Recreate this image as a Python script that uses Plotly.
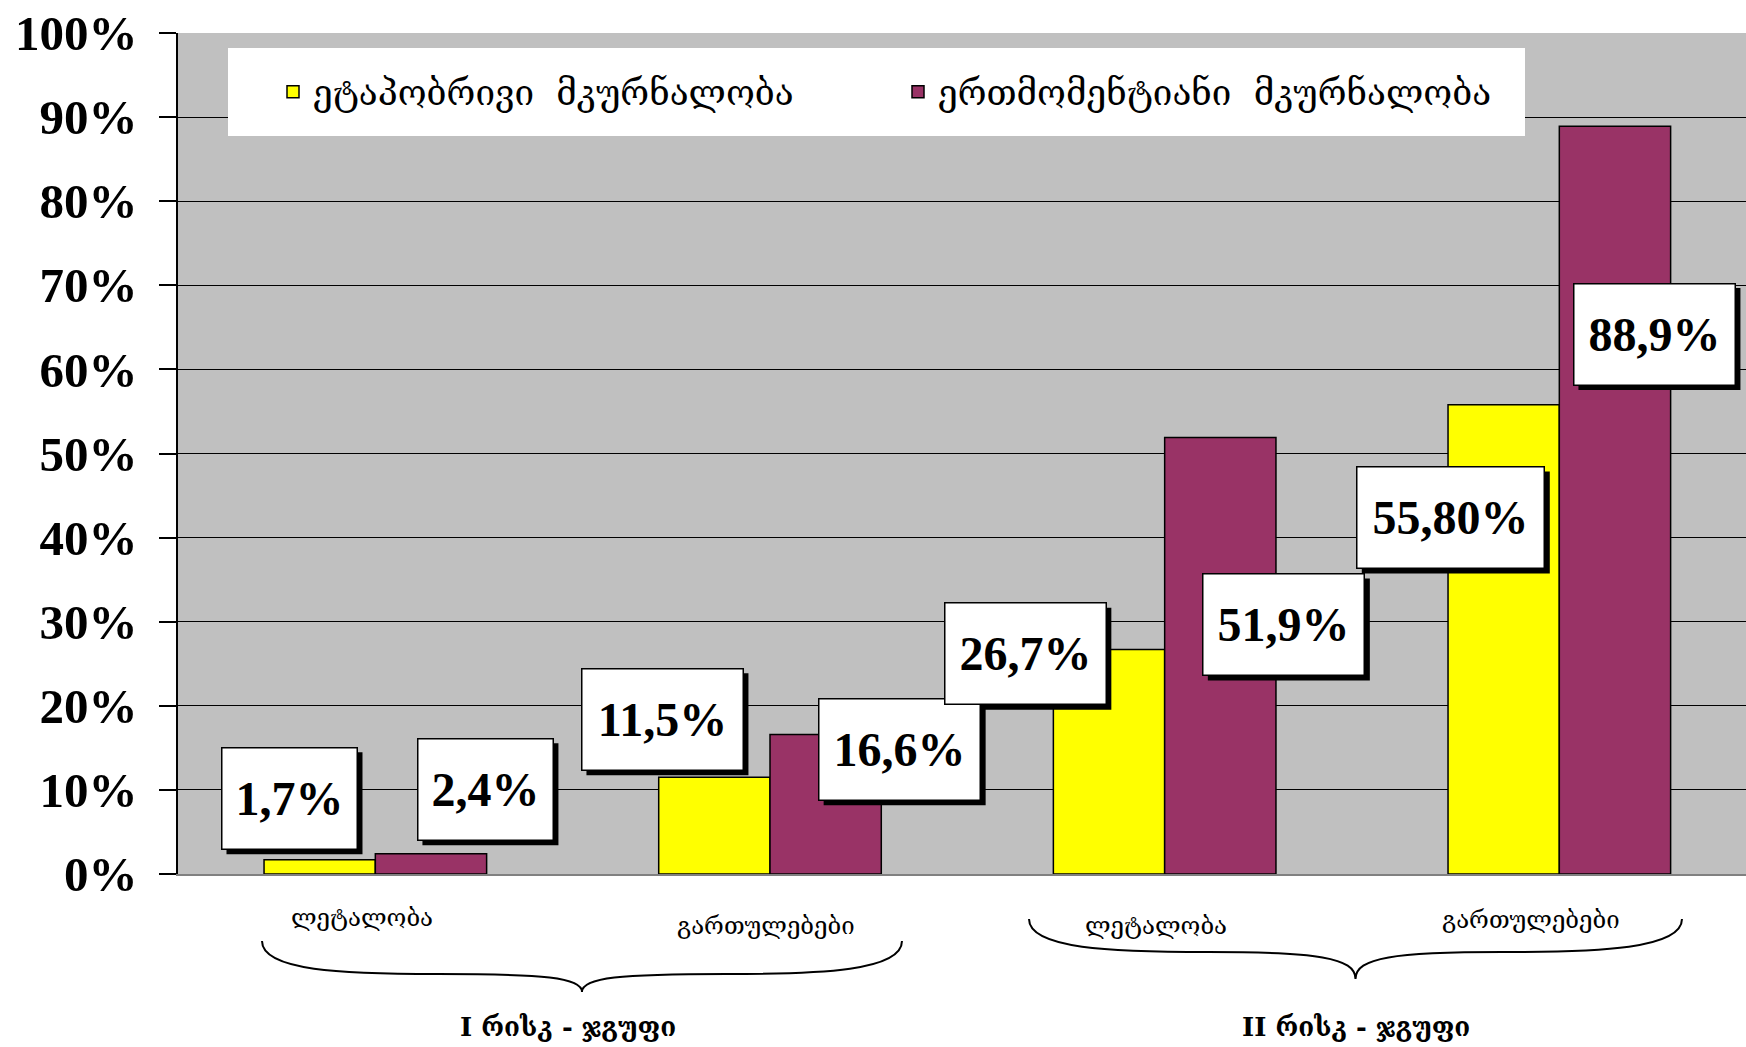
import plotly.graph_objects as go

# ---------------- data ----------------
categories = ["ლეტალობა", "გართულებები", "ლეტალობა", "გართულებები"]
group_titles = ["I რისკ - ჯგუფი", "II რისკ - ჯგუფი"]
series_names = ["ეტაპობრივი\u00a0\u00a0მკურნალობა", "ერთმომენტიანი\u00a0\u00a0მკურნალობა"]
staged = [1.7, 11.5, 26.7, 55.8]
single = [2.4, 16.6, 51.9, 88.9]
staged_text = ["1,7%", "11,5%", "26,7%", "55,80%"]
single_text = ["2,4%", "16,6%", "51,9%", "88,9%"]
y_ticks = [0, 10, 20, 30, 40, 50, 60, 70, 80, 90, 100]
y_tick_text = ["0%", "10%", "20%", "30%", "40%", "50%", "60%", "70%", "80%", "90%", "100%"]

# ---------------- label placement (positions, not data) ----------------
staged_lbl_dx = [-0.2175, -0.2725, -0.353, -0.275]
staged_lbl_y = [9.0, 18.4, 26.2, 42.4]
single_lbl_dx = [0.279, 0.3285, 0.302, 0.241]
single_lbl_y = [10.07, 14.83, 29.67, 64.2]

# ---------------- geometry helpers ----------------
W, H = 1746, 1047
ML, MR, MT, MB = 178, 0, 33, 173
PW = W - ML - MR
PH = H - MT - MB


def pxx(p):
    return (p - ML) / PW


def pxy(p):
    return (H - MB - p) / PH


YELLOW = "#FFFF00"
PURPLE = "#993366"
NUM_FONT = "Liberation Serif, Times New Roman, serif"
GEO_FONT = "DejaVu Serif, DejaVu Sans, serif"

xs = list(range(len(categories)))

fig = go.Figure()
fig.add_trace(go.Bar(
    x=xs, y=staged, name=series_names[0],
    marker=dict(color=YELLOW, line=dict(color="black", width=1.5)),
))
fig.add_trace(go.Bar(
    x=xs, y=single, name=series_names[1],
    marker=dict(color=PURPLE, line=dict(color="black", width=1.5)),
))

annotations = []
shapes = [
    # legend background
    dict(type="rect", xref="paper", yref="paper", x0=pxx(228), x1=pxx(1525),
         y0=pxy(136), y1=pxy(48), fillcolor="white", line=dict(width=0), layer="above"),
]

BOX_H = 100
SHADOW = 5


def add_label(x, y, text):
    w = 30 + 26 * len(text)
    # drop shadow
    shapes.append(dict(type="rect", xref="x", yref="y",
                       xsizemode="pixel", ysizemode="pixel", xanchor=x, yanchor=y,
                       x0=-w / 2 - 1 + SHADOW, x1=w / 2 + 1 + SHADOW,
                       y0=-BOX_H / 2 - 1 - SHADOW, y1=BOX_H / 2 + 1 - SHADOW,
                       fillcolor="black", line=dict(width=0), layer="above"))
    annotations.append(dict(x=x, y=y, xref="x", yref="y", text="<b>%s</b>" % text,
                            showarrow=False, width=w, height=BOX_H, borderpad=0,
                            font=dict(family=NUM_FONT, size=48, color="black"),
                            xanchor="center", yanchor="middle",
                            bgcolor="white", bordercolor="black", borderwidth=1.5))


for i in range(len(categories)):
    add_label(i + staged_lbl_dx[i], staged_lbl_y[i], staged_text[i])
    add_label(i + single_lbl_dx[i], single_lbl_y[i], single_text[i])

# category labels under the axis
cat_px = [(362, 918), (766, 926), (1156, 926), (1531, 920)]
for (cx, cy), name in zip(cat_px, categories):
    annotations.append(dict(x=pxx(cx), y=pxy(cy), xref="paper", yref="paper",
                            text=name, showarrow=False, xanchor="center", yanchor="middle",
                            font=dict(family=GEO_FONT, size=24, color="black")))

# group titles
grp_px = [(568, 1027), (1356, 1027)]
for (gx, gy), name in zip(grp_px, group_titles):
    annotations.append(dict(x=pxx(gx), y=pxy(gy), xref="paper", yref="paper",
                            text="<b>%s</b>" % name, showarrow=False,
                            xanchor="center", yanchor="middle",
                            font=dict(family=GEO_FONT, size=26, color="black")))


def brace_path(x1, x2, ytop, ymid, ytip):
    tx = (x1 + x2) / 2.0

    def P(x, y):
        return "%.5f,%.5f" % (pxx(x), pxy(y))

    half = tx - x1
    d = "M " + P(x1, ytop)
    d += " C " + P(x1, ytop + (ymid - ytop) * 0.9) + " " + P(x1 + half * 0.25, ymid) + " " + P(x1 + half * 0.55, ymid)
    d += " C " + P(tx - half * 0.12, ymid) + " " + P(tx, ymid + (ytip - ymid) * 0.2) + " " + P(tx, ytip)
    d += " C " + P(tx, ymid + (ytip - ymid) * 0.2) + " " + P(tx + half * 0.12, ymid) + " " + P(x2 - half * 0.55, ymid)
    d += " C " + P(x2 - half * 0.25, ymid) + " " + P(x2, ytop + (ymid - ytop) * 0.9) + " " + P(x2, ytop)
    return d


shapes.append(dict(type="path", xref="paper", yref="paper", path=brace_path(262, 902, 941, 974, 992),
                   line=dict(color="black", width=2)))
shapes.append(dict(type="path", xref="paper", yref="paper", path=brace_path(1029, 1682, 919, 952, 979),
                   line=dict(color="black", width=2)))

fig.update_layout(
    width=W, height=H,
    margin=dict(l=ML, r=MR, t=MT, b=MB, pad=0),
    paper_bgcolor="white",
    plot_bgcolor="#C0C0C0",
    barmode="group", bargap=0.436, bargroupgap=0,
    showlegend=True,
    legend=dict(orientation="h", x=pxx(273), y=pxy(92), xanchor="left", yanchor="middle",
                bgcolor="rgba(0,0,0,0)", borderwidth=0,
                font=dict(family=GEO_FONT, size=35, color="black"),
                entrywidth=580, entrywidthmode="pixels", traceorder="normal"),
    xaxis=dict(range=[-0.5, 3.473], showticklabels=False, ticks="", showgrid=False,
               zeroline=False, showline=True, linecolor="#808080", linewidth=2),
    yaxis=dict(range=[0, 100], tickvals=y_ticks, ticktext=y_tick_text,
               showgrid=True, gridcolor="black", gridwidth=1, zeroline=False,
               showline=True, linecolor="black", linewidth=1.5,
               ticks="outside", ticklen=17, tickcolor="black", tickwidth=1.5,
               ticklabelstandoff=12,
               tickfont=dict(family=NUM_FONT, size=49, color="black", weight="bold")),
    annotations=annotations,
    shapes=shapes,
)

fig.write_html("out.html")
